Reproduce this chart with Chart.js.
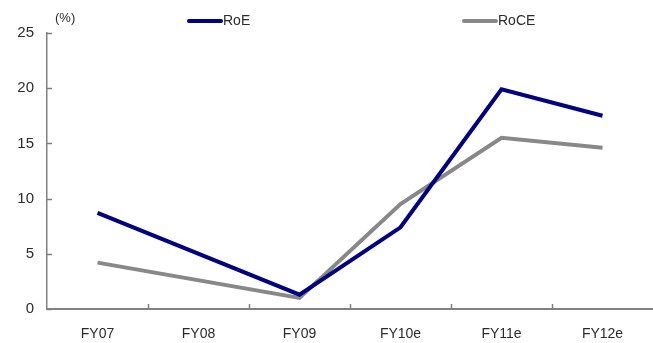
<!DOCTYPE html>
<html>
<head>
<meta charset="utf-8">
<script src="https://cdn.jsdelivr.net/npm/chart.js@4/dist/chart.umd.min.js"></script>
<style>
  html, body { margin: 0; padding: 0; background: #fff; }
  #wrap { width: 653px; height: 343px; position: relative; }
</style>
</head>
<body>
<div id="wrap"><canvas id="c"></canvas></div>
<script>
// Fiscal years on the category axis
const categories = ['FY07', 'FY08', 'FY09', 'FY10e', 'FY11e', 'FY12e'];
// Return on equity (%), FY08 not reported
const roe = [8.7, null, 1.3, 7.4, 19.9, 17.5];
// Return on capital employed (%), FY08 not reported
const roce = [4.2, null, 1.0, 9.5, 15.5, 14.6];
// Value-axis ticks
const yTicks = [0, 5, 10, 15, 20, 25];

const FONT = '"Liberation Sans", Arial, sans-serif';
const TEXT = '#2b2b2b';
const AXIS = '#808080';
const NAVY = '#000080';
const GREY = '#888888';

// Short tick marks pointing into the plot, plus the unit label and legend
const decorations = {
  id: 'decorations',
  afterDraw(chart) {
    const ctx = chart.ctx;
    const x = chart.scales.x, y = chart.scales.y;
    const area = chart.chartArea;
    ctx.save();
    ctx.strokeStyle = AXIS;
    ctx.lineWidth = 1.5;
    ctx.beginPath();
    yTicks.forEach(v => {
      const py = Math.round(y.getPixelForValue(v)) + 0.5;
      ctx.moveTo(area.left, py);
      ctx.lineTo(area.left + 5, py);
    });
    for (let i = 1; i < categories.length; i++) {
      const px = Math.round((x.getPixelForValue(i - 1) + x.getPixelForValue(i)) / 2) + 0.5;
      ctx.moveTo(px, area.bottom);
      ctx.lineTo(px, area.bottom - 5);
    }
    ctx.stroke();

    // unit label
    ctx.fillStyle = TEXT;
    ctx.font = '13px ' + FONT;
    ctx.textBaseline = 'middle';
    ctx.textAlign = 'left';
    ctx.fillText('(%)', 55, 18);

    // legend
    const items = [
      { label: 'RoE', color: NAVY, x: 189 },
      { label: 'RoCE', color: GREY, x: 464 }
    ];
    ctx.font = '14px ' + FONT;
    items.forEach(it => {
      ctx.strokeStyle = it.color;
      ctx.lineWidth = 4;
      ctx.lineCap = 'round';
      ctx.beginPath();
      ctx.moveTo(it.x, 21);
      ctx.lineTo(it.x + 32, 21);
      ctx.stroke();
      ctx.fillStyle = TEXT;
      ctx.fillText(it.label, it.x + 34, 21);
    });
    ctx.restore();
  }
};

new Chart(document.getElementById('c'), {
  type: 'line',
  data: {
    labels: categories,
    datasets: [
      { label: 'RoE', data: roe, borderColor: NAVY, backgroundColor: NAVY,
        borderWidth: 4, pointRadius: 0, tension: 0, spanGaps: true },
      { label: 'RoCE', data: roce, borderColor: GREY, backgroundColor: GREY,
        borderWidth: 4, pointRadius: 0, tension: 0, spanGaps: true }
    ]
  },
  options: {
    responsive: true,
    maintainAspectRatio: false,
    animation: false,
    layout: { padding: { top: 33, right: 0, left: 0, bottom: 0 } },
    plugins: { legend: { display: false }, tooltip: { enabled: false } },
    scales: {
      x: {
        offset: true,
        grid: { display: false, drawTicks: false },
        border: { display: true, color: AXIS, width: 2 },
        ticks: { color: TEXT, font: { family: FONT, size: 14 }, padding: 17, maxRotation: 0 },
        afterFit(s) { s.height = 34; }
      },
      y: {
        min: 0, max: 25,
        afterBuildTicks(s) { s.ticks = yTicks.map(v => ({ value: v })); },
        grid: { display: false, drawTicks: false },
        border: { display: true, color: AXIS, width: 1.5 },
        ticks: { color: TEXT, font: { family: FONT, size: 15 }, padding: 13 },
        afterFit(s) { s.width = 47; }
      }
    }
  },
  plugins: [decorations]
});
</script>
</body>
</html>
